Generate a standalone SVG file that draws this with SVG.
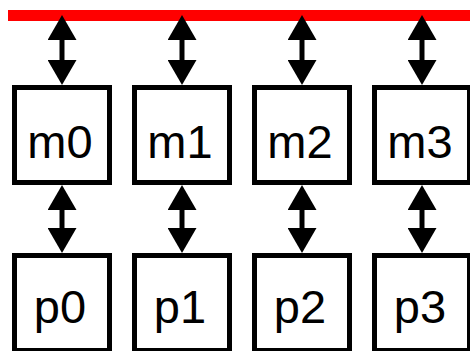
<svg xmlns="http://www.w3.org/2000/svg" width="470" height="351" viewBox="0 0 470 351">
  <style>
    .box { fill: #ffffff; stroke: #000000; stroke-width: 5; }
    .lbl { font-family: "Liberation Sans", Arial, sans-serif; font-size: 47px; fill: #000000; text-anchor: middle; }
    .link { stroke: #000000; stroke-width: 5; fill: none; marker-start: url(#head); marker-end: url(#head); }
  </style>
  <defs>
    <marker id="head" viewBox="0 0 25 29" markerUnits="userSpaceOnUse" markerWidth="25" markerHeight="29" refX="5" refY="14.5" orient="auto-start-reverse">
      <path d="M0,0 L25,14.5 L0,29 Z" fill="#000000"/>
    </marker>
  </defs>

  <!-- shared bus -->
  <rect id="bus" x="8" y="10" width="462" height="11" fill="#ff0000"/>

  <!-- memory modules -->
  <g id="m0"><rect class="box" x="14.5" y="87.5" width="95" height="95"/><text class="lbl" x="60" y="158">m0</text></g>
  <g id="m1"><rect class="box" x="134.5" y="87.5" width="95" height="95"/><text class="lbl" x="180" y="158">m1</text></g>
  <g id="m2"><rect class="box" x="254.5" y="87.5" width="95" height="95"/><text class="lbl" x="300" y="158">m2</text></g>
  <g id="m3"><rect class="box" x="374.5" y="87.5" width="95" height="95"/><text class="lbl" x="420" y="158">m3</text></g>

  <!-- processors -->
  <g id="p0"><rect class="box" x="14.5" y="255.5" width="95" height="95"/><text class="lbl" x="60" y="323">p0</text></g>
  <g id="p1"><rect class="box" x="134.5" y="255.5" width="95" height="95"/><text class="lbl" x="180" y="323">p1</text></g>
  <g id="p2"><rect class="box" x="254.5" y="255.5" width="95" height="95"/><text class="lbl" x="300" y="323">p2</text></g>
  <g id="p3"><rect class="box" x="374.5" y="255.5" width="95" height="95"/><text class="lbl" x="420" y="323">p3</text></g>

  <!-- two-way links: bus to memory, memory to processor -->
  <g id="connectors">
    <line class="link" x1="62" y1="35" x2="62" y2="65"/>
    <line class="link" x1="182" y1="35" x2="182" y2="65"/>
    <line class="link" x1="302" y1="35" x2="302" y2="65"/>
    <line class="link" x1="422" y1="35" x2="422" y2="65"/>
    <line class="link" x1="62" y1="205" x2="62" y2="233"/>
    <line class="link" x1="182" y1="205" x2="182" y2="233"/>
    <line class="link" x1="302" y1="205" x2="302" y2="233"/>
    <line class="link" x1="422" y1="205" x2="422" y2="233"/>
  </g>
</svg>
